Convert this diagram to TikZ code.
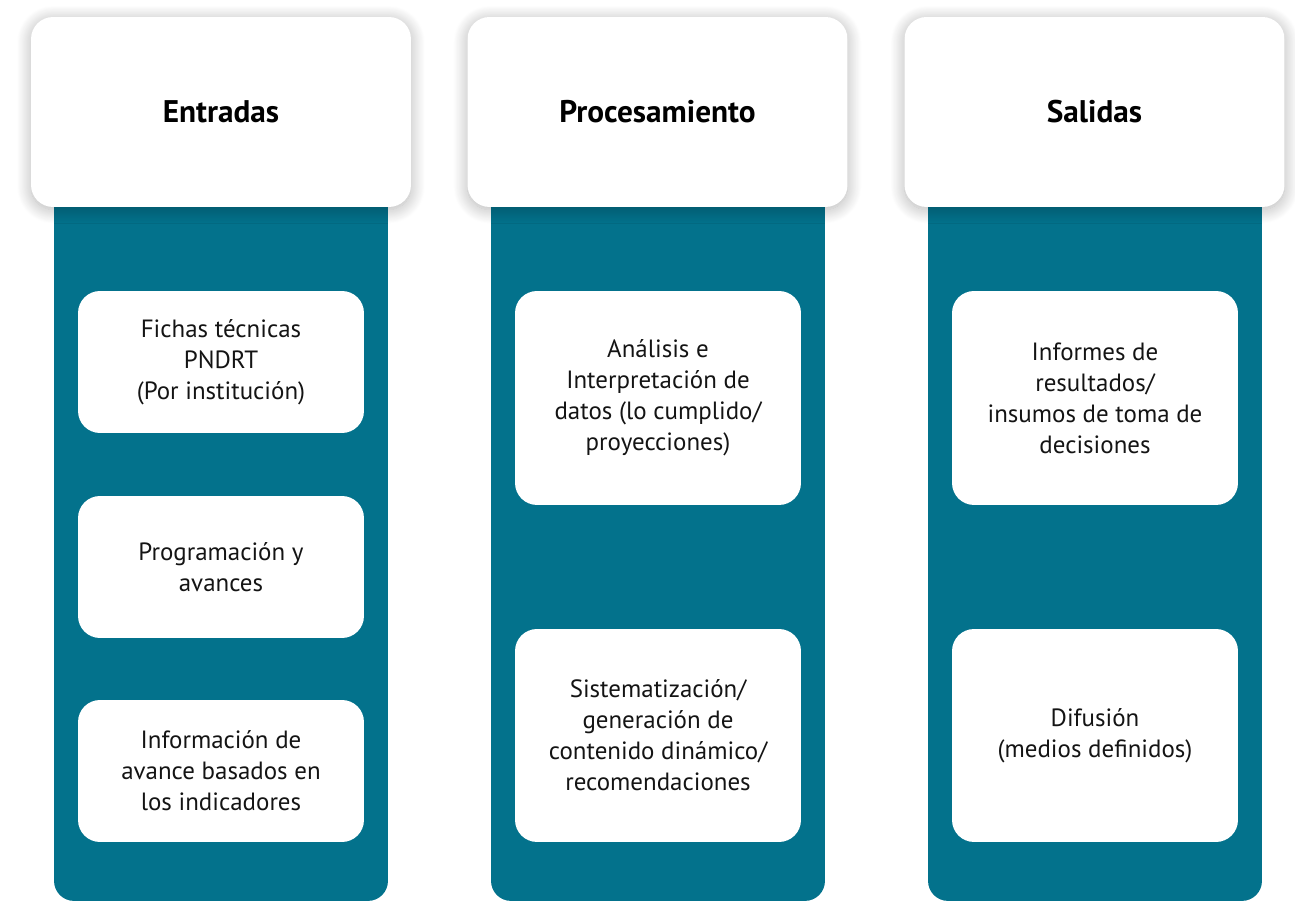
\documentclass[tikz,border=0pt]{standalone}
\usepackage{fontspec}
\setmainfont{PT Sans}
\usepackage{xcolor}
\definecolor{panel-teal}{RGB}{3,114,140}
\definecolor{text-dark}{RGB}{20,20,20}
\usetikzlibrary{shadows.blur}

\begin{document}
\begin{tikzpicture}[
    x=0.02cm, y=-0.02cm,
    every node/.style={inner sep=0pt},
    column/.style={fill=panel-teal, minimum width=6.68cm, minimum height=15.02cm, rounded corners=0.4cm},
    header/.style={fill=white, minimum width=7.6cm, minimum height=3.8cm, rounded corners=0.44cm,
        blur shadow={shadow xshift=0pt, shadow yshift=-1.5pt, shadow blur radius=8pt,
            shadow blur steps=20, shadow opacity=30},
        font=\fontsize{17.8}{20}\selectfont\bfseries, text=black},
    itembox/.style={fill=white, minimum width=5.72cm, rounded corners=0.44cm, align=center,
        font=\fontsize{14.2}{17.6}\selectfont, text=text-dark}
]
\useasboundingbox (0,0) rectangle (1295,901);

% Teal columns
\node[column] (colIn) at (221,525.5) {};
\node[column] (colProc) at (658,525.5) {};
\node[column] (colOut) at (1095,525.5) {};

% Header cards
\node[header] (hIn) at (221,112) {Entradas};
\node[header] (hProc) at (657.5,112) {Procesamiento};
\node[header] (hOut) at (1094.5,112) {Salidas};

% Entradas
\node[itembox, minimum height=2.84cm] (in1) at (221,362) {Fichas técnicas\\PNDRT\\(Por institución)};
\node[itembox, minimum height=2.84cm] (in2) at (221,567) {Programación y\\avances};
\node[itembox, minimum height=2.84cm] (in3) at (221,771) {Información de\\avance basados en\\los indicadores};

% Procesamiento
\node[itembox, minimum height=4.28cm] (proc1) at (658,398) {Análisis e\\Interpretación de\\datos (lo cumplido/\\proyecciones)};
\node[itembox, minimum height=4.26cm] (proc2) at (658,735.5) {Sistematización/\\generación de\\contenido dinámico/\\recomendaciones};

% Salidas
\node[itembox, minimum height=4.28cm] (out1) at (1095,398) {Informes de\\resultados/\\insumos de toma de\\decisiones};
\node[itembox, minimum height=4.26cm] (out2) at (1095,735.5) {Difusión\\(medios definidos)};

\end{tikzpicture}
\end{document}
